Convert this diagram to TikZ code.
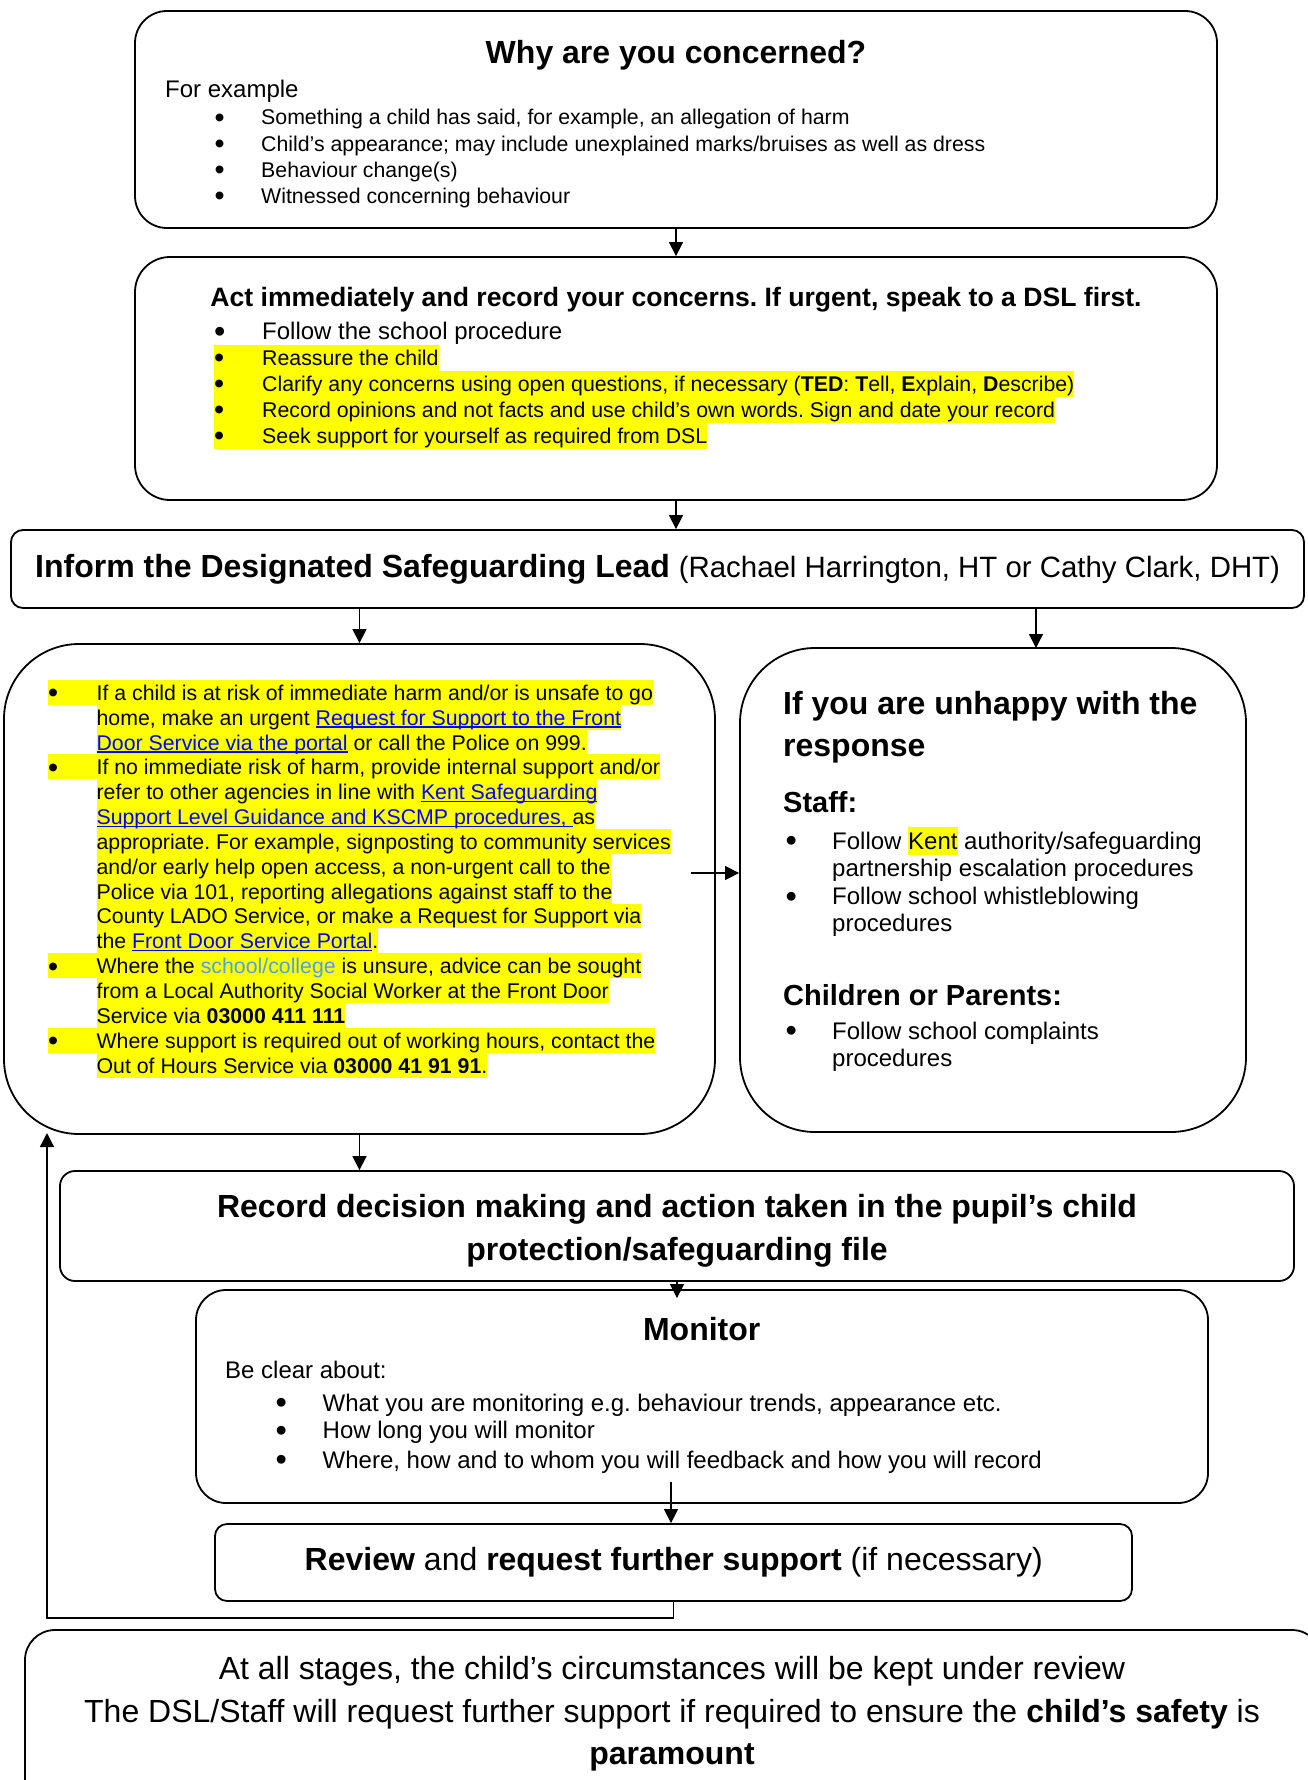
\documentclass[tikz,border=0pt]{standalone}
\usepackage{fontspec}
\setmainfont{Liberation Sans}
\usetikzlibrary{arrows.meta}
\frenchspacing
\definecolor{linkblue}{RGB}{0,0,255}
\definecolor{hlyellow}{RGB}{255,255,0}
\definecolor{skyblue}{RGB}{80,160,230}
\newcommand\lnk[1]{{\color{linkblue}\setbox0\hbox{#1}\rlap{\rule[-2.6pt]{\wd0}{1.4pt}}\box0}}
\newcommand\hlw[1]{{\setbox0\hbox{#1}\rlap{\color{hlyellow}\rule[-5.5pt]{\wd0}{28pt}}\box0}}
\newcommand\fA{\fontsize{21.3}{24.85}\selectfont}
\newcommand\fB{\fontsize{24}{27}\selectfont}
\newcommand\fC{\fontsize{26.6}{30}\selectfont}
\newcommand\fD{\fontsize{29}{33}\selectfont}
\newcommand\fE{\fontsize{29.4}{33}\selectfont}
\newcommand\fH{\fontsize{32}{42}\selectfont}
\newcommand\bul[1]{\makebox[#1][l]{\raisebox{-0.12em}{\scalebox{1.35}{•}}}}
\tikzset{
  box/.style={draw, line width=1.8pt, inner sep=0pt, rounded corners=#1},
  box/.default=12pt,
  txt/.style={inner sep=0pt, anchor=base west},
  ctr/.style={inner sep=0pt, anchor=base},
  hl/.style={fill=hlyellow, inner sep=0pt, anchor=base west, text height=20.4pt, text depth=#1},
  hl/.default=4.5pt,
  arr/.style={-{Triangle[length=14pt,width=14pt]}, line width=1.3pt},
}
\begin{document}
\begin{tikzpicture}[x=1pt,y=-1pt]
\useasboundingbox (0,0) rectangle (1307,1780);
\fill[white] (0,0) rectangle (1307,1780);

% ---- boxes
\node[box=32pt, minimum width=1082pt, minimum height=217pt] (b1) at (676,119.5) {};
\node[box=35pt, minimum width=1082pt, minimum height=243pt] (b2) at (676,378.5) {};
\node[box=12pt, minimum width=1293pt, minimum height=78pt] (b3) at (657.5,569) {};
\node[box=75pt, minimum width=711pt, minimum height=490pt] (b4) at (359.5,889) {};
\node[box=75pt, minimum width=506pt, minimum height=484pt] (b5) at (993,890) {};
\node[box=15pt, minimum width=1234pt, minimum height=110pt] (b6) at (677,1226) {};
\node[box=30pt, minimum width=1012pt, minimum height=213pt] (b7) at (702,1396.5) {};
\node[box=12pt, minimum width=917pt, minimum height=77pt] (b8) at (673.5,1562.5) {};
\node[box=30pt, minimum width=1297pt, minimum height=200pt] (b9) at (673.5,1730) {};

\begin{scope}[yshift=-2.5pt]
% ---- box 1
\node[ctr, font=\fH\bfseries] (t1) at (676,60.7) {Why are you concerned?};
\node[txt, font=\fB] (t1a) at (165,95.2) {For example};
\node[txt, font=\fA] (t1b) at (214.5,122.2) {\bul{46.5pt}Something a child has said, for example, an allegation of harm};
\node[txt, font=\fA] (t1c) at (214.5,148.8) {\bul{46.5pt}Child’s appearance; may include unexplained marks/bruises as well as dress};
\node[txt, font=\fA] (t1d) at (214.5,174.8) {\bul{46.5pt}Behaviour change(s)};
\node[txt, font=\fA] (t1e) at (214.5,200.5) {\bul{46.5pt}Witnessed concerning behaviour};

% ---- box 2
\node[ctr, font=\fC\bfseries] (t2) at (676,303.7) {Act immediately and record your concerns. If urgent, speak to a DSL first.};
\node[txt, font=\fB] (t2a) at (214,337.2) {\bul{48pt}Follow the school procedure};
\node[hl=5.5pt, font=\fA] (t2b) at (214,362.8) {\bul{48pt}Reassure the child};
\node[hl=5.5pt, font=\fA] (t2c) at (214,388.7) {\bul{48pt}Clarify any concerns using open questions, if necessary (\textbf{TED}: \textbf{T}ell, \textbf{E}xplain, \textbf{D}escribe)};
\node[hl=5.5pt, font=\fA] (t2d) at (214,414.6) {\bul{48pt}Record opinions and not facts and use child’s own words. Sign and date your record};
\node[hl=5.5pt, font=\fA] (t2e) at (214,440.5) {\bul{48pt}Seek support for yourself as required from DSL};

% ---- box 3
\node[txt, font=\fH] (t3) at (35,575) {\textbf{Inform the Designated Safeguarding Lead} {\fE(Rachael Harrington, HT or Cathy Clark, DHT)}};

% ---- box 4
\node[hl, font=\fA] (l1) at (48,{697.8+0*24.85}) {\bul{48.4pt}If a child is at risk of immediate harm and/or is unsafe to go};
\node[hl, font=\fA] (l2) at (96.4,{697.8+1*24.85}) {home, make an urgent \lnk{Request for Support to the Front}};
\node[hl, font=\fA] (l3) at (96.4,{697.8+2*24.85}) {\lnk{Door Service via the portal} or call the Police on 999.};
\node[hl, font=\fA] (l4) at (48,{697.8+3*24.85}) {\bul{48.4pt}If no immediate risk of harm, provide internal support and/or};
\node[hl, font=\fA] (l5) at (96.4,{697.8+4*24.85}) {refer to other agencies in line with \lnk{Kent Safeguarding}};
\node[hl, font=\fA] (l6) at (96.4,{697.8+5*24.85}) {\lnk{Support Level Guidance and KSCMP procedures, }as};
\node[hl, font=\fA] (l7) at (96.4,{697.8+6*24.85}) {appropriate. For example, signposting to community services};
\node[hl, font=\fA] (l8) at (96.4,{697.8+7*24.85}) {and/or early help open access, a non-urgent call to the};
\node[hl, font=\fA] (l9) at (96.4,{697.8+8*24.85}) {Police via 101, reporting allegations against staff to the};
\node[hl, font=\fA] (l10) at (96.4,{697.8+9*24.85}) {County LADO Service, or make a Request for Support via};
\node[hl, font=\fA] (l11) at (96.4,{697.8+10*24.85}) {the \lnk{Front Door Service Portal}.};
\node[hl, font=\fA] (l12) at (48,{697.8+11*24.85}) {\bul{48.4pt}Where the {\color{skyblue}school/college} is unsure, advice can be sought};
\node[hl, font=\fA] (l13) at (96.4,{697.8+12*24.85}) {from a Local Authority Social Worker at the Front Door};
\node[hl, font=\fA] (l14) at (96.4,{697.8+13*24.85}) {Service via \textbf{03000 411 111}};
\node[hl, font=\fA] (l15) at (48,{697.8+14*24.85}) {\bul{48.4pt}Where support is required out of working hours, contact the};
\node[hl, font=\fA] (l16) at (96.4,{697.8+15*24.85}) {Out of Hours Service via \textbf{03000 41 91 91}.};

% ---- box 5
\node[txt, font=\fH\bfseries] (t5a) at (783,712) {If you are unhappy with the};
\node[txt, font=\fH\bfseries] (t5b) at (783,754) {response};
\node[txt, font=\fD\bfseries] (t5c) at (783,810) {Staff:};
\node[txt, font=\fB] (t5d) at (785.5,846.6) {\bul{46.5pt}Follow \hlw{Kent} authority/safeguarding};
\node[txt, font=\fB] (t5e) at (832,874.2) {partnership escalation procedures};
\node[txt, font=\fB] (t5f) at (785.5,901.8) {\bul{46.5pt}Follow school whistleblowing};
\node[txt, font=\fB] (t5g) at (832,929.4) {procedures};
\node[txt, font=\fD\bfseries] (t5h) at (783,1003) {Children or Parents:};
\node[txt, font=\fB] (t5i) at (785.5,1036.5) {\bul{46.5pt}Follow school complaints};
\node[txt, font=\fB] (t5j) at (832,1064) {procedures};

% ---- box 6
\node[ctr, font=\fH\bfseries] (t6a) at (677,1215) {Record decision making and action taken in the pupil’s child};
\node[ctr, font=\fH\bfseries] (t6b) at (677,1257.5) {protection/safeguarding file};

% ---- box 7
\node[ctr, font=\fH\bfseries] (t7) at (701.7,1338) {Monitor};
\node[txt, font=\fB] (t7a) at (225,1375.5) {Be clear about:};
\node[txt, font=\fB] (t7b) at (275.5,1408.5) {\bul{47pt}What you are monitoring e.g. behaviour trends, appearance etc.};
\node[txt, font=\fB] (t7c) at (275.5,1436.2) {\bul{47pt}How long you will monitor};
\node[txt, font=\fB] (t7d) at (275.5,1465.6) {\bul{47pt}Where, how and to whom you will feedback and how you will record};

% ---- box 8
\node[ctr, font=\fH] (t8) at (673.75,1568) {\textbf{Review} and \textbf{request further support} (if necessary)};

% ---- box 9
\node[ctr, font=\fH] (t9a) at (672,1677) {At all stages, the child’s circumstances will be kept under review};
\node[ctr, font=\fH] (t9b) at (672,1719.5) {The DSL/Staff will request further support if required to ensure the \textbf{child’s safety} is};
\node[ctr, font=\fH\bfseries] (t9c) at (672,1761.5) {paramount};
\end{scope}

% ---- connectors
\coordinate (c5) at (1036,648);
\coordinate (h4) at (691,873);
\coordinate (m7) at (671,1482);
\coordinate (fbc) at (47,1618);
\coordinate (fb) at (47,1133);
\draw[arr] (b1.south) -- (b2.north);
\draw[arr] (b2.south) -- (b2.south |- b3.north);
\draw[arr] (b3.south -| b4.north) -- (b4.north);
\draw[arr] (b3.south -| c5) -- (c5);
\draw[arr] (h4) -- (h4 -| b5.west);
\draw[arr] (b4.south) -- (b4.south |- b6.north);
\draw[arr] (b6.south) -- ([yshift=-9pt]b6.south |- b7.north);
\draw[arr] (m7) -- (m7 |- b8.north);
\draw[arr] (b8.south) |- (fbc) -- (fb);
\end{tikzpicture}
\end{document}
